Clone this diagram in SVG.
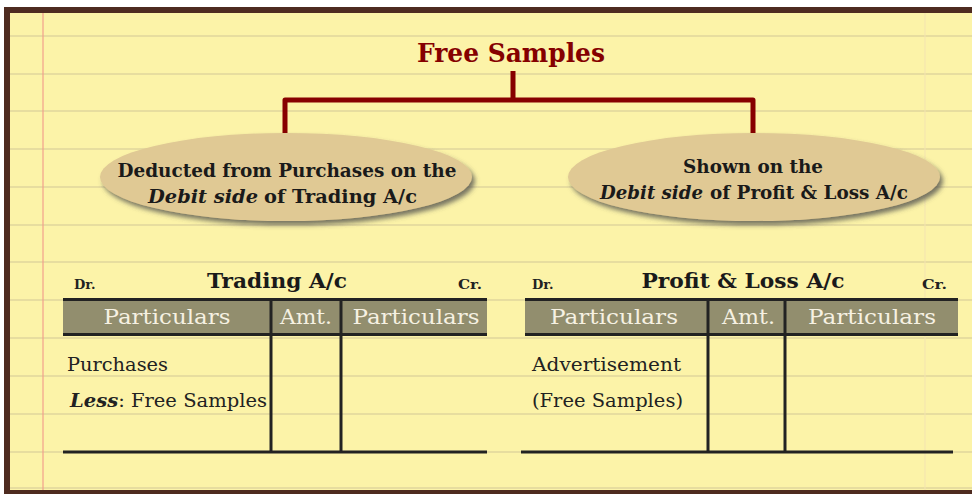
<svg xmlns="http://www.w3.org/2000/svg" width="972" height="494" viewBox="0 0 972 494">
<defs>
<filter id="sh" x="-10%" y="-20%" width="125%" height="150%">
<feDropShadow dx="3" dy="4" stdDeviation="2.5" flood-color="#4a4a4a" flood-opacity="0.75"/>
</filter>
<style>
.rule{stroke:#e7dd9f;stroke-width:2}
.t{font-family:"DejaVu Serif","Liberation Serif",serif;}
.b{font-weight:bold}
.bi{font-weight:bold;font-style:italic}
.ell{fill:#e0c994;filter:url(#sh)}
.et{font-size:18px;fill:#1a1a1a}
.hd{fill:#928e6e}
.hl{stroke:#222;stroke-width:3;fill:none}
.ht{font-size:20px;fill:#f6f1e2}
.bt{font-size:19px;fill:#222}
.dc{font-size:13px;fill:#222}
.tt{font-size:21px;fill:#1a1a1a}
.con{stroke:#870000;stroke-width:5;fill:none;stroke-linejoin:round}
</style>
</defs>
<rect x="0" y="0" width="972" height="494" fill="#fff"/>
<rect x="4" y="7" width="968" height="487" fill="#fcf3a8"/>
<g id="paper">
<line class="rule" x1="10" y1="36" x2="972" y2="36"/>
<line class="rule" x1="10" y1="74" x2="972" y2="74"/>
<line class="rule" x1="10" y1="111" x2="972" y2="111"/>
<line class="rule" x1="10" y1="149" x2="972" y2="149"/>
<line class="rule" x1="10" y1="187" x2="972" y2="187"/>
<line class="rule" x1="10" y1="225" x2="972" y2="225"/>
<line class="rule" x1="10" y1="262" x2="972" y2="262"/>
<line class="rule" x1="10" y1="300" x2="972" y2="300"/>
<line class="rule" x1="10" y1="338" x2="972" y2="338"/>
<line class="rule" x1="10" y1="376" x2="972" y2="376"/>
<line class="rule" x1="10" y1="414" x2="972" y2="414"/>
<line class="rule" x1="10" y1="452" x2="972" y2="452"/>
<line class="rule" x1="10" y1="488" x2="972" y2="488"/>
<line x1="43" y1="13" x2="43" y2="491" stroke="#f2a08c" stroke-width="1.2"/>
<line x1="925" y1="13" x2="925" y2="491" stroke="#f3e3b0" stroke-width="1"/>
<path d="M7 494 V10 H972" fill="none" stroke="#4e2b20" stroke-width="6"/>
<line x1="4" y1="492" x2="972" y2="492" stroke="#4e2b20" stroke-width="4"/>
</g>
<g id="connectors">
<path class="con" d="M513 71 V100"/>
<path class="con" d="M285 133 V100 H753 V133"/>
</g>
<g id="title">
<text class="t b" x="511" y="62" font-size="26" fill="#850000" text-anchor="middle" textLength="188" lengthAdjust="spacingAndGlyphs">Free Samples</text>
</g>
<g id="node-trading">
<ellipse class="ell" cx="286" cy="177" rx="186" ry="44"/>
<text class="t b et" x="287" y="177" text-anchor="middle" textLength="339" lengthAdjust="spacingAndGlyphs">Deducted from Purchases on the</text>
<text class="t bi et" x="148" y="203" textLength="110" lengthAdjust="spacingAndGlyphs">Debit side</text>
<text class="t b et" x="264" y="203" textLength="153" lengthAdjust="spacingAndGlyphs">of Trading A/c</text>
</g>
<g id="node-pl">
<ellipse class="ell" cx="754" cy="177" rx="186" ry="44"/>
<text class="t b et" x="753" y="173" text-anchor="middle" textLength="140" lengthAdjust="spacingAndGlyphs">Shown on the</text>
<text class="t bi et" x="600" y="199" textLength="103" lengthAdjust="spacingAndGlyphs">Debit side</text>
<text class="t b et" x="710" y="199" textLength="198" lengthAdjust="spacingAndGlyphs">of Profit &amp; Loss A/c</text>
</g>
<g id="table-trading">
<text class="t b dc" x="74" y="289">Dr.</text>
<text class="t b tt" x="277" y="288" text-anchor="middle" textLength="140" lengthAdjust="spacingAndGlyphs">Trading A/c</text>
<text class="t b dc" x="458" y="289" textLength="24" lengthAdjust="spacingAndGlyphs">Cr.</text>
<rect class="hd" x="63" y="299.5" width="424" height="35"/>
<line class="hl" x1="63" y1="299.5" x2="487" y2="299.5"/>
<line class="hl" x1="63" y1="334.5" x2="487" y2="334.5"/>
<line class="hl" x1="271" y1="298" x2="271" y2="453"/>
<line class="hl" x1="341" y1="298" x2="341" y2="453"/>
<line class="hl" x1="63" y1="452" x2="487" y2="452"/>
<text class="t ht" x="167" y="324" text-anchor="middle" textLength="127" lengthAdjust="spacingAndGlyphs">Particulars</text>
<text class="t ht" x="306" y="324" text-anchor="middle" textLength="52" lengthAdjust="spacingAndGlyphs">Amt.</text>
<text class="t ht" x="416" y="324" text-anchor="middle" textLength="127" lengthAdjust="spacingAndGlyphs">Particulars</text>
<text class="t bt" x="67" y="371" textLength="101" lengthAdjust="spacingAndGlyphs">Purchases</text>
<text class="t bt" x="70" y="407" textLength="197" lengthAdjust="spacingAndGlyphs"><tspan class="bi">Less</tspan>: Free Samples</text>
</g>
<g id="table-pl">
<text class="t b dc" x="532" y="289">Dr.</text>
<text class="t b tt" x="743" y="288" text-anchor="middle" textLength="203" lengthAdjust="spacingAndGlyphs">Profit &amp; Loss A/c</text>
<text class="t b dc" x="922" y="289" textLength="25" lengthAdjust="spacingAndGlyphs">Cr.</text>
<rect class="hd" x="525" y="299.5" width="433" height="35"/>
<line class="hl" x1="525" y1="299.5" x2="958" y2="299.5"/>
<line class="hl" x1="525" y1="334.5" x2="958" y2="334.5"/>
<line class="hl" x1="708" y1="298" x2="708" y2="453"/>
<line class="hl" x1="785" y1="298" x2="785" y2="453"/>
<line class="hl" x1="521" y1="452" x2="953" y2="452"/>
<text class="t ht" x="614" y="324" text-anchor="middle" textLength="128" lengthAdjust="spacingAndGlyphs">Particulars</text>
<text class="t ht" x="748.5" y="324" text-anchor="middle" textLength="53" lengthAdjust="spacingAndGlyphs">Amt.</text>
<text class="t ht" x="872" y="324" text-anchor="middle" textLength="128" lengthAdjust="spacingAndGlyphs">Particulars</text>
<text class="t bt" x="532" y="371" textLength="149" lengthAdjust="spacingAndGlyphs">Advertisement</text>
<text class="t bt" x="532" y="407" textLength="151" lengthAdjust="spacingAndGlyphs">(Free Samples)</text>
</g>
</svg>
